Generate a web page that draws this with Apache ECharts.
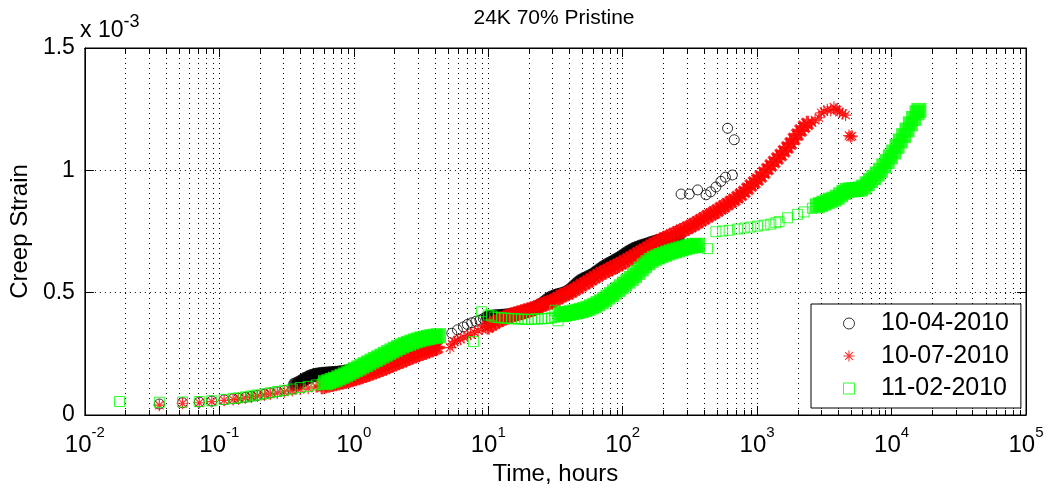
<!DOCTYPE html>
<html><head><meta charset="utf-8">
<script src="https://cdn.jsdelivr.net/npm/echarts@6/dist/echarts.min.js"></script>
<style>html,body{margin:0;padding:0;background:#fff}#c{width:1050px;height:491px}</style>
</head><body><div id="c"></div>
<script>
const chartTitle = '24K 70% Pristine';
const xName = 'Time, hours';
const yName = 'Creep Strain';
const yScaleNote = ['x 10', '-3'];
const seriesNames = ['10-04-2010', '10-07-2010', '11-02-2010'];
const xTickExps = ['-2', '-1', '0', '1', '2', '3', '4', '5'];
const yTickValues = [0, 0.5, 1, 1.5];
const yTickLabels = ['0', '0.5', '1', '1.5'];
const decades = [0.01, 0.1, 1, 10, 100, 1000, 10000];
const minorMult = [2, 3, 4, 5, 6, 7, 8, 9];

// values: [hours, strain x 1e-3]
const blackSparse = [
[0.0358,0.045],[0.0533,0.05],[0.0709,0.053],[0.0879,0.057],[0.1086,0.062],[0.1267,0.066],
[0.1387,0.068],[0.1563,0.072],[0.173,0.076],[0.1918,0.08],[0.2163,0.085],[0.2395,0.09],[0.2698,0.095],[0.304,0.10],[0.3483,0.106],
[5.36,0.334],[5.9,0.348],[6.54,0.36],[7.0,0.37],[7.54,0.377],[8.1,0.383],[8.69,0.388],[9.2,0.394],[9.73,0.40],
[272,0.903],[313,0.903],[361,0.92],[417,0.90],[451,0.912],[494,0.932],[538,0.955],[581,0.972],[655,0.981],[603,1.172],[676,1.125]
];
const blackDense = [
[0.366,0.125],[0.391,0.132],[0.415,0.14],[0.438,0.148],[0.464,0.155],[0.49,0.16],[0.519,0.164],[0.549,0.167],[0.582,0.169],[0.616,0.17],
[0.652,0.171],[0.69,0.172],[0.73,0.173],[0.774,0.174],[0.819,0.176],[0.867,0.178],[0.918,0.181],[0.971,0.183],[1.089,0.19],[1.219,0.198],
[1.366,0.208],[1.531,0.218],[1.716,0.23],[1.922,0.242],[2.156,0.255],[2.415,0.266],[2.706,0.276],[3.034,0.285],[3.397,0.292],[3.806,0.298],[3.98,0.30],
[10.0,0.40],[10.6,0.402],[11.2,0.404],[11.9,0.405],[12.6,0.406],[13.3,0.407],[14.1,0.408],[14.9,0.41],[15.8,0.412],[16.7,0.415],
[17.7,0.418],[18.7,0.422],[19.8,0.426],[21.0,0.43],[22.2,0.436],[23.5,0.443],[24.9,0.452],[26.4,0.462],[27.9,0.472],[29.5,0.48],
[31.3,0.486],[33.1,0.49],[35.0,0.494],[37.0,0.498],[39.3,0.505],[41.6,0.515],[44.0,0.527],[46.6,0.54],[49.3,0.55],[52.2,0.557],
[55.2,0.563],[58.5,0.57],[61.9,0.578],[65.5,0.588],[69.3,0.598],[73.4,0.607],[77.8,0.615],[82.3,0.622],[87.1,0.63],[92.3,0.638],
[97.6,0.646],[103.3,0.655],[109.4,0.664],[115.7,0.672],[122.5,0.679],[129.7,0.685],[137.4,0.69],[145.3,0.694],[153.9,0.698],[162.9,0.703],
[172.3,0.707],[182.5,0.711],[193.2,0.714],[204.4,0.716],[216.4,0.718],[229.1,0.72],[242.5,0.722],[256.8,0.724]
];
const redSparse = [
[0.0358,0.040],[0.0533,0.048],[0.0709,0.05],[0.0879,0.055],[0.1086,0.06],[0.1267,0.063],
[0.1387,0.066],[0.1563,0.07],[0.173,0.074],[0.1918,0.078],[0.2163,0.082],[0.2395,0.086],[0.2698,0.09],[0.304,0.095],[0.3483,0.10],[0.3995,0.105],[0.4581,0.11],[0.5254,0.115],
[5.2,0.275],[5.4,0.29],[5.6,0.30],[5.9,0.305],[6.2,0.31],[6.6,0.318],[7.0,0.325],[7.4,0.33],[7.9,0.338],[8.4,0.345],[9.0,0.352],[9.6,0.358],
[2560,1.195],[2700,1.205],[2884,1.215],[3000,1.235],[3141,1.24],[3330,1.248],[3530,1.245],[3726,1.258],[3850,1.25],[3945,1.246],[4100,1.238],[4330,1.232],[4550,1.226],[4830,1.142],[4958,1.137],[5080,1.14]
];
const redDense = [
[0.582,0.118],[0.616,0.121],[0.652,0.124],[0.69,0.127],[0.73,0.13],[0.774,0.133],[0.819,0.136],[0.867,0.139],[0.918,0.142],[0.971,0.146],
[1.028,0.15],[1.089,0.154],[1.151,0.158],[1.219,0.163],[1.291,0.168],[1.366,0.173],[1.446,0.178],[1.531,0.183],[1.621,0.188],[1.716,0.193],
[1.816,0.199],[1.922,0.205],[2.034,0.211],[2.156,0.216],[2.281,0.221],[2.415,0.227],[2.557,0.233],[2.706,0.238],[2.864,0.243],[3.034,0.248],
[3.209,0.253],[3.397,0.258],[3.597,0.263],[3.806,0.268],[4.03,0.273],[4.15,0.276],
[10.0,0.362],[10.6,0.37],[11.2,0.378],[11.9,0.385],[12.6,0.392],[13.3,0.398],[14.1,0.403],[14.9,0.408],[15.8,0.412],[16.7,0.416],
[17.7,0.42],[18.7,0.424],[19.8,0.428],[21.0,0.432],[22.2,0.436],[23.5,0.442],[24.9,0.448],[26.4,0.455],[27.9,0.459],[29.5,0.463],
[31.3,0.47],[33.1,0.478],[35.0,0.486],[37.0,0.493],[39.3,0.498],[41.6,0.505],[44.0,0.513],[46.6,0.521],[49.3,0.53],[52.2,0.538],
[55.2,0.546],[58.5,0.555],[61.9,0.563],[65.5,0.571],[69.3,0.579],[73.4,0.586],[77.8,0.593],[82.3,0.60],[87.1,0.607],[92.3,0.613],
[97.6,0.62],[103.3,0.628],[109.4,0.636],[115.7,0.644],[122.5,0.652],[129.7,0.66],[137.4,0.668],[145.3,0.676],[153.9,0.684],[162.9,0.692],
[172.3,0.70],[182.5,0.707],[193.2,0.714],[204.4,0.72],[216.4,0.727],[229.1,0.733],[242.5,0.74],[256.8,0.746],[271.6,0.752],[287.6,0.758],
[304.6,0.765],[322.3,0.772],[341.3,0.78],[361,0.788],[382,0.796],[405,0.804],[429,0.812],[454,0.82],[480,0.828],[508,0.836],
[538,0.845],[569,0.853],[603,0.862],[638,0.871],[676,0.88],[716,0.89],[757,0.90],[802,0.912],[849,0.925],[898,0.938],
[951,0.95],[1006,0.962],[1065,0.975],[1127,0.99],[1194,1.005],[1264,1.02],[1337,1.034],[1416,1.048],[1499,1.063],[1586,1.078],
[1680,1.093],[1778,1.11],[1881,1.128],[1994,1.146],[2108,1.163],[2234,1.178],[2366,1.19]
];
const greenSparse = [
[0.0181,0.055],[0.0358,0.052],[0.0533,0.053],[0.0709,0.055],[0.0879,0.058],[0.1086,0.064],[0.1267,0.068],
[0.1387,0.070],[0.1563,0.074],[0.173,0.078],[0.1918,0.082],[0.2163,0.087],[0.2395,0.091],[0.2698,0.096],[0.304,0.101],[0.3483,0.106],[0.3995,0.112],[0.4581,0.117],[0.5254,0.123],[0.582,0.127],
[7.76,0.30],[8.93,0.422],[10.0,0.409],[10.6,0.405],[11.2,0.40],[11.9,0.398],[12.6,0.397],[13.3,0.396],[14.1,0.395],[14.9,0.394],[15.8,0.393],[16.7,0.393],[17.7,0.392],[18.7,0.391],[19.8,0.391],[21.0,0.391],[22.2,0.392],[23.5,0.393],[24.9,0.393],[26.4,0.394],[27.9,0.395],[29.5,0.397],[31.3,0.40],[31.3,0.428],[33.1,0.385],[33.1,0.412],[34.0,0.422],
[428,0.68],[494,0.749],[554,0.752],[620,0.755],[716,0.76],[802,0.764],[898,0.768],[1006,0.772],[1127,0.776],[1264,0.78],[1377,0.786],[1457,0.79],[1680,0.806],[1994,0.82],[2234,0.83],[2577,0.845]
];
const greenDense = [
[0.616,0.132],[0.652,0.136],[0.69,0.141],[0.73,0.146],[0.774,0.152],[0.819,0.158],[0.867,0.164],[0.918,0.171],[0.971,0.178],
[1.028,0.185],[1.089,0.192],[1.151,0.199],[1.219,0.206],[1.291,0.213],[1.366,0.22],[1.446,0.227],[1.531,0.234],[1.621,0.241],[1.716,0.248],
[1.816,0.255],[1.922,0.262],[2.034,0.269],[2.156,0.276],[2.281,0.282],[2.415,0.288],[2.557,0.293],[2.706,0.298],[2.864,0.303],[3.034,0.307],
[3.209,0.311],[3.397,0.314],[3.597,0.317],[3.806,0.32],[4.03,0.322],[4.266,0.324],
[35.0,0.41],[37.0,0.412],[39.3,0.415],[41.6,0.418],[44.0,0.421],[46.6,0.424],[49.3,0.427],[52.2,0.431],[55.2,0.436],[58.5,0.442],
[61.9,0.448],[65.5,0.455],[69.3,0.463],[73.4,0.472],[77.8,0.482],[82.3,0.492],[87.1,0.503],[92.3,0.513],[97.6,0.524],[103.3,0.535],
[109.4,0.547],[115.7,0.558],[122.5,0.57],[129.7,0.583],[137.4,0.597],[145.3,0.61],[153.9,0.622],[162.9,0.632],[172.3,0.64],[182.5,0.646],
[193.2,0.652],[204.4,0.657],[216.4,0.662],[229.1,0.667],[242.5,0.671],[256.8,0.675],[271.6,0.679],[287.6,0.683],[304.6,0.687],[322.3,0.69],
[341.3,0.692],[360.4,0.694],
[2805,0.855],[2966,0.86],[3141,0.866],[3325,0.872],[3516,0.878],[3724,0.882],[3945,0.89],[4178,0.90],[4416,0.91],[4677,0.918],
[4955,0.92],[5236,0.921],[5546,0.922],[5875,0.924],[6209,0.932],[6590,0.945],[6966,0.958],[7379,0.97],[7816,0.985],[8260,1.0],
[8750,1.018],[9270,1.036],[9795,1.055],[10380,1.075],[10990,1.098],[11620,1.12],[12300,1.142],[13030,1.165],[13800,1.19],[14590,1.212],
[15450,1.235],[15960,1.245]
];

const FONT = 'Liberation Sans';
const BLACK = '#000000', RED = '#ff0000', GREEN = '#00ff00';
const STAR = 'path://M9,0H11V20H9Z M0,9H20V11H0Z M3.7,2.3L17.7,16.3L16.3,17.7L2.3,3.7Z M16.3,2.3L17.7,3.7L3.7,17.7L2.3,16.3Z';
const STAR_BOLD = 'path://M8,0H12V20H8Z M0,8H20V12H0Z M4.4,1.6L18.4,15.6L15.6,18.4L1.6,4.4Z M15.6,1.6L18.4,4.4L4.4,18.4L1.6,15.6Z';
const SQUARE = 'path://M0,0H20V20H0Z';

const minorTicks = [];
decades.forEach(d => minorMult.forEach(m => minorTicks.push([d * m, 0])));

function renderMinor(params, api) {
  const p = api.coord([api.value(0), 1]);
  const cs = params.coordSys;
  const x = Math.round(p[0]) + 0.5;
  const y0 = cs.y, y1 = cs.y + cs.height;
  return { type: 'group', children: [
    { type: 'line', shape: { x1: x, y1: y0, x2: x, y2: y1 }, style: { stroke: '#000', lineWidth: 1, lineDash: [1, 4] } },
    { type: 'line', shape: { x1: x, y1: y1, x2: x, y2: y1 - 5 }, style: { stroke: '#000', lineWidth: 1 } },
    { type: 'line', shape: { x1: x, y1: y0, x2: x, y2: y0 + 5 }, style: { stroke: '#000', lineWidth: 1 } }
  ]};
}

const hollow = c => ({ color: 'rgba(0,0,0,0)', borderColor: c, borderWidth: 1 });
const filled = c => ({ color: c, borderColor: c, borderWidth: 0 });

const chart = echarts.init(document.getElementById('c'), null, { renderer: 'canvas' });
chart.setOption({
  animation: false,
  backgroundColor: '#fff',
  textStyle: { fontFamily: FONT, color: '#000' },
  grid: { left: 82, right: 24, top: 48, bottom: 76, show: true, borderColor: '#000', borderWidth: 1, backgroundColor: 'rgba(0,0,0,0)' },
  legend: {
    orient: 'vertical', left: 811, top: 304,
    padding: [7, 12, 7, 32], itemGap: 7.5,
    itemWidth: 54, itemHeight: 11, symbolKeepAspect: true,
    backgroundColor: '#fff', borderColor: '#000', borderWidth: 1, borderRadius: 0,
    textStyle: { fontFamily: FONT, fontSize: 25, color: '#000' },
    data: [
      { name: seriesNames[0], icon: 'circle', itemStyle: hollow(BLACK) },
      { name: seriesNames[1], icon: STAR, itemStyle: filled(RED) },
      { name: seriesNames[2], icon: SQUARE, itemStyle: hollow(GREEN) }
    ]
  },
  graphic: [{
    type: 'text', x: 554, y: 18, z: 100,
    style: { text: chartTitle, fontFamily: FONT, fontSize: 21, fill: '#000', align: 'center', verticalAlign: 'middle' }
  }, {
    type: 'text', left: 80, top: 13, z: 100,
    style: { text: '{a|' + yScaleNote[0] + '}{s|' + yScaleNote[1] + '}',
      rich: { a: { fontFamily: FONT, fontSize: 23, lineHeight: 36, fill: '#000' },
              s: { fontFamily: FONT, fontSize: 18, lineHeight: 18, verticalAlign: 'top', fill: '#000' } } }
  }],
  xAxis: [{
    type: 'log', logBase: 10, min: 0.01, max: 100000, splitNumber: 7, position: 'bottom',
    name: xName, nameLocation: 'middle', nameGap: 29,
    nameTextStyle: { fontFamily: FONT, fontSize: 24, color: '#000' },
    axisLine: { show: true, onZero: false, lineStyle: { color: '#000', width: 1 } },
    axisTick: { show: true, inside: true, length: 9, lineStyle: { color: '#000' } },
    splitLine: { show: true, lineStyle: { color: '#000', type: [1, 4], width: 1 } },
    axisLabel: {
      margin: 10, color: '#000',
      formatter: v => { const i = Math.round(Math.log10(v)) + 2; return '{b|10}{s|' + xTickExps[i] + '}'; },
      rich: { b: { fontFamily: FONT, fontSize: 24, lineHeight: 40, color: '#000' },
              s: { fontFamily: FONT, fontSize: 15, lineHeight: 15, verticalAlign: 'top', color: '#000' } }
    }
  }, {
    type: 'log', logBase: 10, min: 0.01, max: 100000, splitNumber: 7, position: 'top',
    axisLine: { show: true, onZero: false, lineStyle: { color: '#000', width: 1 } },
    axisTick: { show: true, inside: true, length: 9, lineStyle: { color: '#000' } },
    splitLine: { show: false }, axisLabel: { show: false }
  }],
  yAxis: [{
    type: 'value', min: 0, max: 1.5, interval: 0.5, position: 'left',
    name: yName, nameLocation: 'middle', nameGap: 46,
    nameTextStyle: { fontFamily: FONT, fontSize: 24, color: '#000' },
    axisLine: { show: true, onZero: false, lineStyle: { color: '#000', width: 1 } },
    axisTick: { show: true, inside: true, length: 9, lineStyle: { color: '#000' } },
    splitLine: { show: true, lineStyle: { color: '#000', type: [1, 4], width: 1 } },
    axisLabel: { margin: 10, fontFamily: FONT, fontSize: 23, color: '#000',
      formatter: v => { const i = yTickValues.indexOf(v); return i >= 0 ? yTickLabels[i] : ''; } }
  }, {
    type: 'value', min: 0, max: 1.5, interval: 0.5, position: 'right',
    axisLine: { show: true, onZero: false, lineStyle: { color: '#000', width: 1 } },
    axisTick: { show: true, inside: true, length: 9, lineStyle: { color: '#000' } },
    splitLine: { show: false }, axisLabel: { show: false }
  }],
  series: [
    { type: 'custom', silent: true, z: 1, xAxisIndex: 0, yAxisIndex: 0, renderItem: renderMinor, data: minorTicks, clip: false },
    { name: seriesNames[0], type: 'scatter', symbol: 'circle', symbolSize: 10, itemStyle: hollow(BLACK), data: blackSparse, z: 3 },
    { name: seriesNames[0], type: 'scatter', symbol: 'circle', symbolSize: 14, itemStyle: filled(BLACK), data: blackDense, z: 3 },
    { name: seriesNames[1], type: 'scatter', symbol: STAR, symbolSize: 12, itemStyle: filled(RED), data: redSparse, z: 4 },
    { name: seriesNames[1], type: 'scatter', symbol: STAR_BOLD, symbolSize: 16, itemStyle: filled(RED), data: redDense, z: 4 },
    { name: seriesNames[2], type: 'scatter', symbol: 'rect', symbolSize: 10, itemStyle: hollow(GREEN), data: greenSparse, z: 5 },
    { name: seriesNames[2], type: 'scatter', symbol: 'rect', symbolSize: 15, itemStyle: filled(GREEN), data: greenDense, z: 5 }
  ]
});
</script>
</body></html>
